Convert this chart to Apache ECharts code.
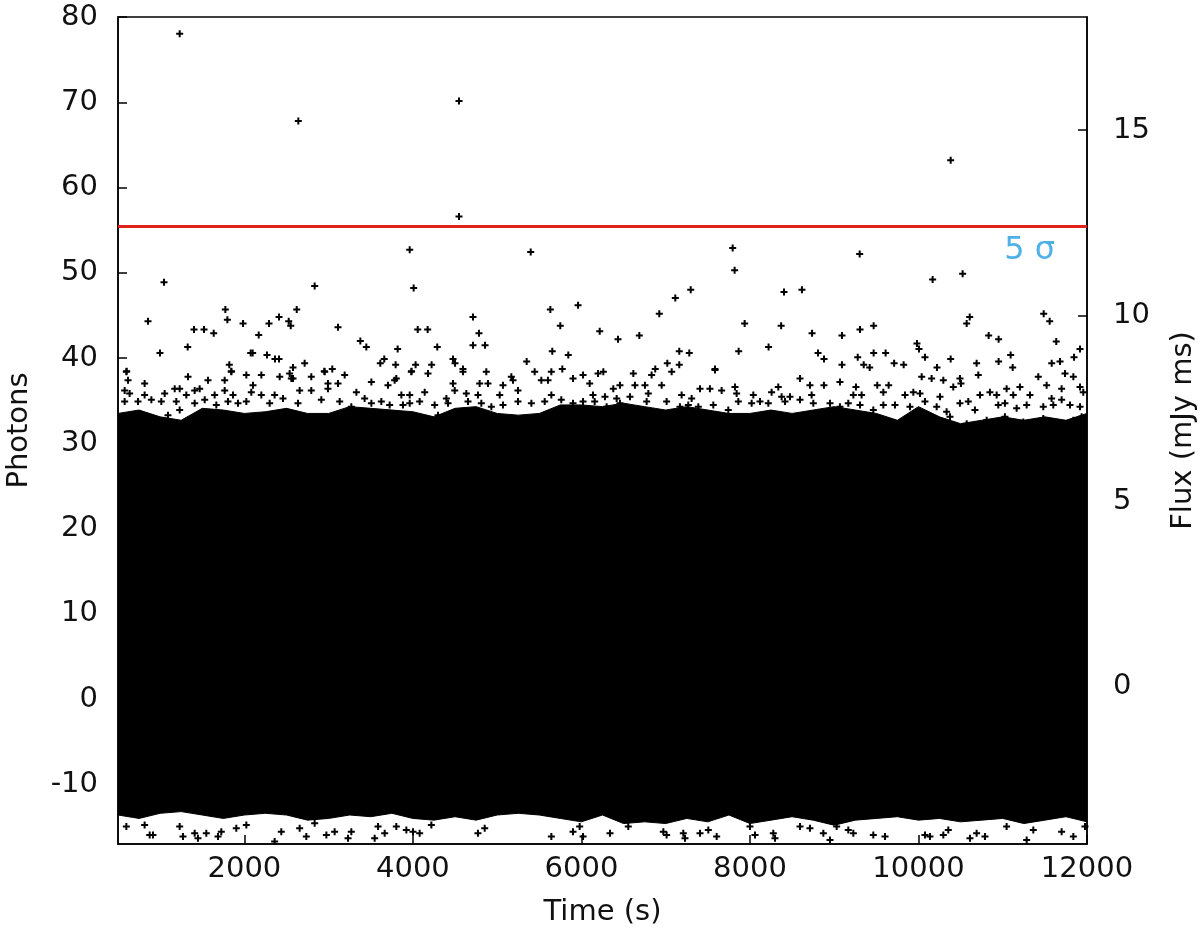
<!DOCTYPE html>
<html>
<head>
<meta charset="utf-8">
<title>Photons vs time</title>
<script src="https://cdn.jsdelivr.net/npm/echarts@6/dist/echarts.min.js"></script>
<style>
  html, body { margin: 0; padding: 0; background: #fff; }
  #chart { width: 1200px; height: 931px; }
</style>
</head>
<body>
<div id="chart"></div>
<script>
// sample times (s) for the envelope of the dense noise band
const bandTimes = [500, 750, 1000, 1250, 1500, 1750, 2000, 2250, 2500, 2750, 3000, 3250, 3500, 3750, 4000, 4250,
  4500, 4750, 5000, 5250, 5500, 5750, 6000, 6250, 6500, 6750, 7000, 7250, 7500, 7750, 8000, 8250,
  8500, 8750, 9000, 9250, 9500, 9750, 10000, 10250, 10500, 10750, 11000, 11250, 11500, 11750, 12000]
// top of the solid black region (photons)
const bandUpper = [33.5, 33.9, 33.1, 32.7, 34.1, 33.9, 33.5, 33.7, 34.1, 33.5, 33.5, 34.3, 34.1, 33.9, 33.7, 33.1,
  34.1, 34.3, 33.5, 33.3, 33.5, 34.5, 34.5, 34.3, 34.7, 34.3, 33.9, 34.3, 33.9, 33.5, 33.5, 33.9,
  33.5, 33.9, 34.3, 33.9, 33.5, 32.7, 34.3, 33.1, 32.3, 32.7, 33.1, 32.7, 33.1, 32.7, 33.5]
// bottom of the solid black region (photons)
const bandLower = [-13.6, -14.0, -13.4, -13.2, -13.6, -14.0, -13.6, -13.4, -13.6, -14.2, -14.0, -13.6, -13.8, -13.4, -14.0, -14.2,
  -13.8, -14.2, -13.6, -13.4, -13.6, -14.0, -14.4, -13.6, -14.6, -14.4, -14.6, -14.0, -14.4, -13.6, -14.6, -14.2,
  -13.8, -14.2, -14.8, -14.2, -14.0, -13.8, -14.2, -14.0, -14.4, -14.2, -14.0, -14.6, -14.2, -13.8, -14.4]

// isolated points above the band [time, photons]
const outliers = [
  [1232, 78.05], [2640, 67.8], [4547, 70.15], [4547, 56.6], [10382, 63.2],
  [3962, 52.7], [5398, 52.45], [1046, 48.9], [4009, 48.2], [2834, 48.45],
  [7795, 52.9], [7818, 50.3], [9302, 52.2], [10168, 49.2], [10524, 49.9],
  [856, 44.3], [1774, 45.7], [1798, 44.5], [2621, 45.7], [5631, 45.7], [5960, 46.2], [6217, 43.15],
  [4713, 44.8], [4784, 42.9], [5749, 43.8], [1984, 44.05], [2292, 44.05], [2411, 44.8], [2526, 44.3],
  [2550, 43.8], [1402, 43.35], [1521, 43.35], [1636, 42.9], [3111, 43.6], [4057, 43.35], [4175, 43.35],
  [1327, 41.3], [998, 40.6], [2170, 42.7], [3376, 42.0], [3447, 41.3], [3819, 41.05], [4289, 41.3],
  [4713, 41.5], [4856, 41.5], [5654, 40.8], [5844, 40.35], [2075, 40.6], [2098, 40.6], [2268, 40.35],
  [2363, 39.9], [2411, 39.9], [4476, 39.9], [4500, 39.4], [5350, 39.6], [3660, 39.9], [3613, 39.4],
  [603, 38.45], [1821, 39.2], [1845, 38.45], [2715, 39.4], [3795, 39.2], [4032, 39.2], [3984, 38.45],
  [4222, 39.2], [4594, 38.7], [3043, 38.7], [2948, 38.45], [2577, 38.9], [5773, 38.7],
  [7297, 48.0], [7114, 47.05], [6924, 45.2], [8404, 47.75], [8617, 48.0], [7937, 44.05], [8370, 43.8],
  [8737, 42.9], [9306, 43.35], [9468, 43.8], [9092, 42.65], [11486, 45.2], [11557, 44.3], [10608, 44.8],
  [10572, 44.05], [10833, 42.65], [10951, 42.2], [11635, 41.95], [6434, 42.2], [6687, 42.65], [8221, 41.3],
  [7866, 40.8], [7161, 40.8], [7280, 40.6], [9982, 41.7], [10006, 41.05], [10077, 40.1], [11917, 41.05],
  [11846, 40.1], [8808, 40.6], [8879, 39.9], [9468, 40.6], [9610, 40.6], [11094, 40.35], [11118, 38.9],
  [10951, 39.6], [10690, 39.4], [10382, 39.9], [11680, 39.6], [11581, 39.4], [7019, 39.4], [7161, 39.2],
  [9092, 39.2], [9279, 40.1], [9350, 39.2], [9421, 38.9], [9711, 39.4], [9824, 39.2], [10220, 38.9],
  [7585, 38.7], [6876, 38.7]
]

// points on the ragged upper edge of the band
const upperFringe = [
  [599, 38.4], [1331, 37.8], [1845, 38.4], [2023, 38.0], [2201, 38.0], [2419, 37.8], [2537, 38.2], [2577, 37.6],
  [2794, 37.8], [2953, 38.4], [3190, 38.0], [3507, 37.2], [3803, 37.6], [3981, 38.4], [4179, 38.2], [4594, 38.4],
  [4871, 38.4], [5168, 37.8], [5445, 38.4], [5643, 38.4], [6019, 38.0], [6197, 38.2],
  [619, 37.4], [816, 37.0], [1173, 36.4], [1232, 36.4], [1469, 36.4], [1568, 37.4], [1766, 37.4], [2102, 36.8],
  [2557, 37.6], [2992, 37.0], [3111, 37.0], [3704, 36.8], [3783, 37.4], [4476, 37.0], [4792, 37.0], [4891, 37.0],
  [5069, 36.8], [5188, 37.4], [5524, 37.4], [5603, 37.4], [5900, 37.6], [6098, 37.0],
  [579, 36.2], [638, 35.85], [816, 35.65], [1054, 35.85], [1311, 35.65], [1410, 36.2], [1647, 35.65], [1766, 36.2],
  [1865, 35.65], [2082, 36.0], [2201, 35.65], [2359, 35.65], [2656, 36.2], [2794, 36.2], [2992, 36.4], [3329, 36.0],
  [3427, 35.25], [3863, 35.65], [3962, 35.65], [4140, 36.0], [4397, 35.25], [4496, 36.2], [4634, 35.85], [4772, 35.65],
  [5030, 35.65], [5247, 36.2], [5643, 35.65], [6137, 35.65],
  [579, 34.9], [737, 34.9], [896, 35.1], [1014, 34.9], [1192, 34.9], [1410, 34.7], [1529, 35.1], [1667, 34.5],
  [1805, 34.9], [1924, 34.7], [2023, 34.9], [2300, 34.7], [2458, 35.25], [2636, 34.7], [2913, 35.1], [3131, 34.9],
  [3269, 34.3], [3507, 34.7], [3625, 34.9], [3724, 34.5], [3882, 34.5], [3962, 34.7], [4080, 34.9], [4258, 34.5],
  [4417, 34.7], [4654, 34.9], [4812, 34.7], [4931, 34.3], [5069, 34.5], [5247, 34.9], [5406, 34.7], [5564, 34.9],
  [5761, 35.1], [5900, 34.7], [6019, 34.9], [6157, 34.9],
  [1093, 33.3], [1232, 33.9], [4298, 33.3], [4614, 33.5],
  [6260, 38.4], [6616, 38.2], [6833, 38.0], [7071, 38.4], [7585, 38.6], [8594, 37.6], [10038, 37.8], [10156, 37.6],
  [10295, 37.4], [10492, 37.6], [10710, 38.0], [11422, 37.8], [11739, 38.2], [11838, 37.8],
  [6378, 36.4], [6457, 36.8], [6635, 36.8], [6754, 36.8], [6952, 36.8], [7407, 36.4], [7525, 36.4], [7664, 36.2],
  [7822, 36.6], [8336, 36.6], [8712, 36.8], [8878, 36.8], [9068, 37.2], [9258, 36.6], [9511, 36.8], [9646, 36.8],
  [10413, 36.6], [10504, 37.0], [11204, 36.6], [11521, 36.8], [11699, 36.4], [11917, 36.6],
  [6279, 35.45], [6418, 35.25], [6576, 35.45], [6794, 35.85], [7189, 35.65], [7308, 35.25], [7842, 35.85], [8040, 35.65],
  [8257, 36.0], [8376, 35.45], [8475, 35.45], [8732, 35.65], [9227, 35.65], [9325, 35.65], [9583, 36.0], [9840, 35.65],
  [9939, 36.0], [10018, 35.85], [10255, 35.45], [10730, 35.65], [10848, 36.0], [10928, 35.65], [11046, 36.4], [11125, 35.65],
  [11323, 35.65], [11580, 35.25], [11699, 35.1], [11956, 36.0],
  [6299, 34.3], [6457, 34.7], [6774, 34.9], [7011, 34.9], [7169, 34.3], [7268, 34.5], [7387, 34.3], [7565, 34.5],
  [7743, 33.9], [7862, 34.9], [8020, 34.7], [8119, 34.9], [8218, 34.7], [8416, 34.9], [8594, 35.1], [8752, 34.7],
  [8950, 34.7], [9068, 34.3], [9167, 34.7], [9306, 34.5], [9464, 33.9], [9583, 34.5], [9721, 34.5], [9899, 34.3],
  [10077, 34.9], [10216, 34.3], [10334, 33.7], [10492, 34.7], [10591, 34.9], [10670, 33.9], [10947, 34.5], [11026, 34.7],
  [11165, 34.1], [11284, 34.5], [11481, 34.3], [11600, 34.5], [11798, 34.5], [11917, 34.3],
  [10176, 32.7], [10374, 33.1], [10572, 32.3], [10809, 32.7], [11026, 33.1], [11244, 32.5], [11481, 32.9], [11640, 32.3],
  [11838, 32.7], [11936, 33.1]
]

// points below the band
const lowerFringe = [
  [599, -14.96], [816, -14.76], [876, -15.94], [915, -15.94], [1232, -14.96], [1271, -16.13], [1410, -15.74], [1449, -16.33],
  [1548, -15.74], [1687, -16.13], [1726, -15.55], [1904, -15.15], [2023, -14.76], [2359, -16.72], [2438, -15.55], [2656, -15.15],
  [2735, -16.13], [2834, -14.57], [2973, -15.94], [3071, -15.55], [3230, -16.33], [3269, -15.55], [3546, -16.33], [3586, -14.96],
  [3665, -15.74], [3803, -14.96], [3922, -15.35], [4001, -15.55], [4080, -15.74], [4219, -14.76], [4772, -15.74], [4852, -15.15],
  [5643, -16.13], [5900, -15.55], [5979, -14.96], [6019, -16.13],
  [6339, -15.74], [6556, -14.96], [6972, -15.55], [7011, -15.94], [7209, -15.74], [7229, -16.33], [7407, -15.74], [7506, -15.35],
  [7605, -16.13], [8000, -14.96], [8060, -15.94], [8277, -15.74], [8297, -16.33], [8594, -14.96], [8712, -15.15], [8871, -15.74],
  [8950, -16.53], [9029, -14.96], [9167, -15.35], [9227, -15.74], [9464, -15.94], [9603, -16.13], [10077, -15.94], [10136, -16.13],
  [10295, -15.94], [10354, -15.35], [10611, -16.33], [10690, -15.74], [10789, -16.13], [11046, -14.96], [11284, -16.53], [11363, -15.35],
  [11699, -15.55], [11838, -16.13], [11976, -14.96]
]

const fiveSigma = 55.4
const xTicks = [2000, 4000, 6000, 8000, 10000, 12000]
const photonTicks = [-10, 0, 10, 20, 30, 40, 50, 60, 70, 80]
const fluxTicks = [0, 5, 10, 15]

const plusMark = 'path://M2.5 0h2v2.5h2.5v2h-2.5v2.5h-2v-2.5h-2.5v-2h2.5z'
const fontFamily = '"DejaVu Sans", "Liberation Sans", sans-serif'

const axisText = { fontSize: 29, color: '#111', fontFamily: fontFamily }
const axisLineStyle = { color: '#000', width: 1.5 }
const plainNumber = v => String(v)

const chart = echarts.init(document.getElementById('chart'), null, { renderer: 'canvas' })

// the dense band, drawn once as one polygon: upper edge left->right, lower edge back
function renderBand (params, api) {
  if (params.dataIndex !== 0) return null
  const pts = []
  bandTimes.forEach((t, i) => pts.push(api.coord([t, bandUpper[i]])))
  for (let i = bandTimes.length - 1; i >= 0; i--) {
    pts.push(api.coord([bandTimes[i], bandLower[i]]))
  }
  return {
    type: 'polygon',
    shape: { points: pts },
    style: { fill: '#000', stroke: '#000', lineWidth: 1 }
  }
}

const option = {
  animation: false,
  backgroundColor: '#fff',
  grid: {
    left: 118,
    right: 113,
    top: 17,
    bottom: 87,
    outerBoundsMode: 'none',
    show: true,
    borderColor: '#000',
    borderWidth: 1.5,
    backgroundColor: 'transparent'
  },
  xAxis: {
    type: 'value',
    min: 500,
    max: 12000,
    name: 'Time (s)',
    nameLocation: 'middle',
    nameGap: 54,
    nameTextStyle: axisText,
    axisLine: { onZero: false, lineStyle: axisLineStyle },
    axisTick: { inside: true, length: 9, lineStyle: axisLineStyle, customValues: xTicks },
    axisLabel: Object.assign({ margin: 11, customValues: xTicks, formatter: plainNumber }, axisText),
    splitLine: { show: false }
  },
  yAxis: [
    {
      type: 'value',
      min: -17,
      max: 80,
      name: 'Photons',
      nameLocation: 'middle',
      nameGap: 84,
      nameTextStyle: axisText,
      axisLine: { show: true, onZero: false, lineStyle: axisLineStyle },
      axisTick: { show: true, inside: true, length: 9, lineStyle: axisLineStyle, customValues: photonTicks },
      axisLabel: Object.assign({ margin: 20, customValues: photonTicks, formatter: plainNumber }, axisText),
      splitLine: { show: false }
    },
    {
      type: 'value',
      position: 'right',
      min: -4.24,
      max: 18.05,
      name: 'Flux (mJy ms)',
      nameLocation: 'middle',
      nameRotate: 90,
      nameGap: 82,
      nameTextStyle: axisText,
      axisLine: { show: true, onZero: false, lineStyle: axisLineStyle },
      axisTick: { show: true, inside: true, length: 9, lineStyle: axisLineStyle, customValues: fluxTicks },
      axisLabel: Object.assign({ margin: 26, customValues: fluxTicks, formatter: plainNumber }, axisText),
      splitLine: { show: false }
    }
  ],
  series: [
    {
      name: 'band',
      type: 'custom',
      renderItem: renderBand,
      silent: true,
      clip: true,
      data: bandTimes.map((t, i) => [t, bandLower[i], bandUpper[i]]),
      encode: { x: 0, y: [1, 2] },
      z: 1
    },
    {
      name: 'points',
      type: 'scatter',
      symbol: plusMark,
      symbolSize: 7,
      silent: true,
      itemStyle: { color: '#000', opacity: 1 },
      data: outliers.concat(upperFringe, lowerFringe),
      z: 2,
      markLine: {
        silent: true,
        symbol: ['none', 'none'],
        z: 5,
        lineStyle: { color: '#e3211b', width: 3, type: 'solid' },
        label: {
          show: true,
          position: 'insideEndBottom',
          formatter: '5 σ',
          color: '#4fb0e8',
          fontSize: 32,
          fontFamily: fontFamily,
          distance: [32, 8]
        },
        emphasis: { disabled: true },
        data: [{ yAxis: fiveSigma }]
      }
    }
  ]
}

chart.setOption(option)
</script>
</body>
</html>
